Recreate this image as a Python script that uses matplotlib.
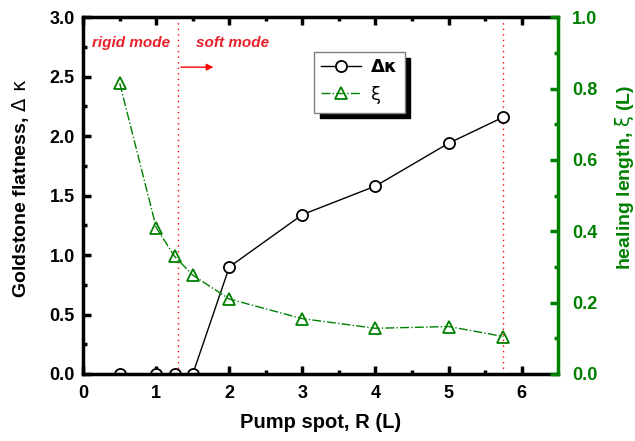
import numpy as np
import matplotlib
matplotlib.use("Agg")
import matplotlib.pyplot as plt

plt.rcParams['font.family'] = ['Liberation Sans', 'DejaVu Sans']
plt.rcParams['mathtext.fontset'] = 'dejavusans'
plt.rcParams['mathtext.default'] = 'regular'

# pump spot R (L)
R = [0.5, 1.0, 1.25, 1.5, 2.0, 3.0, 4.0, 5.0, 5.75]
# Goldstone flatness
dkappa = [0.0, 0.0, 0.0, 0.0, 0.9, 1.34, 1.58, 1.94, 2.16]
# healing length
xi = [0.815, 0.41, 0.33, 0.277, 0.21, 0.155, 0.128, 0.133, 0.105]

R_cross = 1.3
R_end = 5.75

green = '#008000'

fig = plt.figure(figsize=(6.35, 4.41), dpi=100)
ax = fig.add_axes([0.131, 0.152, 0.748, 0.809])
ax2 = ax.twinx()

l1, = ax.plot(R, dkappa, color='black', lw=1, marker='o', ms=8,
              mfc='white', mec='black', mew=1.3, zorder=2)
l1.set_clip_path(ax.patch)
l2, = ax2.plot(R, xi, color=green, lw=1, ls='-.', marker='^', ms=9,
               mfc='none', mec=green, mew=1.3, zorder=3)

for xv in [R_cross, R_end]:
    ax.axvline(xv, color='red', ls=(0, (1, 3)), lw=1, zorder=1)

ax.annotate('', xy=(1.82, 2.58), xytext=(R_cross, 2.58),
            arrowprops=dict(arrowstyle='-|>', color='red', lw=1, mutation_scale=10))
ax.text(0.12, 2.78, 'rigid mode', color='#e8202a', fontsize=11,
        fontweight='bold', style='italic', va='center')
ax.text(1.55, 2.78, 'soft mode', color='#e8202a', fontsize=11,
        fontweight='bold', style='italic', va='center')

ax.set_xlim(0, 6.5)
ax.set_ylim(0, 3.0)
ax2.set_ylim(0, 1.0)
ax.set_xticks([0, 1, 2, 3, 4, 5, 6])
ax.set_xticks(np.arange(0.5, 6.5, 1.0), minor=True)
ax.set_yticks([0, 0.5, 1.0, 1.5, 2.0, 2.5, 3.0])
ax.set_yticks(np.arange(0.25, 3.0, 0.5), minor=True)
ax.set_yticklabels(['0.0', '0.5', '1.0', '1.5', '2.0', '2.5', '3.0'])
ax2.set_yticks([0, 0.2, 0.4, 0.6, 0.8, 1.0])
ax2.set_yticks(np.arange(0.1, 1.0, 0.2), minor=True)
ax2.set_yticklabels(['0.0', '0.2', '0.4', '0.6', '0.8', '1.0'])

ax.tick_params(which='both', direction='in', top=True, right=False, width=2.5,
               labelsize=13)
ax.tick_params(axis='x', pad=8)
ax.tick_params(axis='y', pad=6)
ax.tick_params(which='major', length=6)
ax.tick_params(which='minor', length=3)
ax2.tick_params(which='both', direction='in', colors=green, width=2.5,
                labelsize=13, labelcolor=green, pad=10)
ax2.tick_params(which='major', length=6)
ax2.tick_params(which='minor', length=3)
for lab in ax.get_xticklabels() + ax.get_yticklabels():
    lab.set_fontweight('bold')
for lab in ax2.get_yticklabels():
    lab.set_fontweight('bold')

for s in ['left', 'bottom', 'top']:
    ax.spines[s].set_linewidth(2.5)
ax2.spines['right'].set_color(green)
ax2.spines['right'].set_linewidth(2.5)
ax2.spines['left'].set_visible(False)
ax2.spines['top'].set_visible(False)
ax2.spines['bottom'].set_visible(False)
ax.spines['right'].set_visible(False)

ax.set_xlabel('Pump spot, R (L)', fontsize=14.5, fontweight='bold', labelpad=8)
ax.set_ylabel(r'Goldstone flatness, $\mathrm{\Delta\ \kappa}$', fontsize=14,
              fontweight='bold', labelpad=13)
ax2.set_ylabel(r'healing length, $\mathrm{\xi}$ (L)', fontsize=14, fontweight='bold',
               color=green, labelpad=11)
ax2.yaxis.label.set_y(0.55)
ax.yaxis.label.set_y(0.52)

leg = ax.legend([l1, l2], [r'$\mathbf{\Delta\kappa}$', r'$\mathrm{\xi}$'], loc='upper left',
                bbox_to_anchor=(0.486, 0.902), borderaxespad=0, fontsize=13,
                fancybox=False, shadow={'color': 'black', 'alpha': 1, 'ox': 4, 'oy': -4},
                handlelength=2.2, handletextpad=0.5, borderpad=0.4, labelspacing=0.4,
                framealpha=1, edgecolor='gray')
leg.get_frame().set_linewidth(1)

fig.savefig('out.png', dpi=100)
